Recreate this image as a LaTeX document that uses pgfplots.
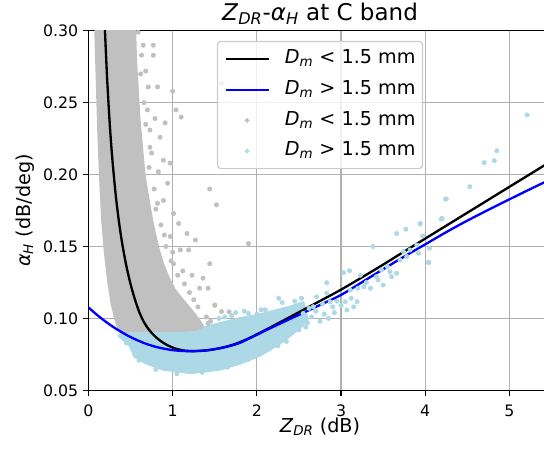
\documentclass[border=0pt]{standalone}
\usepackage{fontspec}
\setmainfont{DejaVu Sans}
\usepackage{pgfplots}
\pgfplotsset{compat=1.18}
\definecolor{silver}{HTML}{C0C0C0}
\definecolor{lblue}{HTML}{ADD8E6}
\definecolor{gridc}{HTML}{B0B0B0}
\definecolor{legc}{HTML}{CCCCCC}
\newcommand\mi[1]{\textit{#1}}
\newcommand\sub[1]{\textsubscript{\textit{#1}}}
\begin{document}
\begin{tikzpicture}
\begin{axis}[
  scale only axis,
  width=338pt, height=262.4pt,
  xmin=0, xmax=5.5, ymin=0.05, ymax=0.30,
  xtick={0,1,2,3,4,5},
  ytick={0.05,0.10,0.15,0.20,0.25,0.30},
  /pgf/number format/assume math mode=true,
  yticklabel style={/pgf/number format/.cd, fixed, fixed zerofill, precision=2},
  xticklabel style={yshift=-3pt},
  ticklabel style={font=\fontsize{11.5}{13}\selectfont},
  tick align=outside, xtick pos=bottom, ytick pos=left,
  major tick length=4pt,
  tick style={black, line width=0.9pt},
  axis line style={black, line width=0.9pt},
  grid=major,
  major grid style={gridc, line width=0.9pt},
  title={\mi{Z}\sub{DR}-\mi{α}\sub{H} at C band},
  every axis title shift=0pt,
  title style={font=\fontsize{16.8}{19}\selectfont, at={(axis description cs:0.5,1.0285)}, anchor=base},
  xlabel={\mi{Z}\sub{DR} (dB)},
  xlabel style={font=\fontsize{14}{16}\selectfont, at={(axis description cs:0.5,-0.118)}, anchor=base},
  ylabel={\mi{α}\sub{H} (dB/deg)},
  ylabel style={font=\fontsize{14}{16}\selectfont, at={(axis description cs:-0.126,0.5)}, anchor=base},
  legend image code/.code={\draw[mark repeat=2,mark phase=2,#1] plot coordinates {(0pt,0pt) (15.7pt,0pt) (31.4pt,0pt)};},
  legend cell align=left,
  legend style={at={(axis description cs:0.5,0.972)}, anchor=north,
    draw=legc, line width=0.9pt, rounded corners=2.5pt, fill=white, fill opacity=0.8, text opacity=1,
    font=\fontsize{14}{16}\selectfont,
    inner xsep=5pt, inner ysep=5.8pt, row sep=8.4pt, column sep=11pt,
    nodes={inner sep=0pt, text height=10.5pt, text depth=3.5pt}},
]
% legend entries
\addlegendimage{black, line width=1.7pt}
\addlegendentry{\mi{D}\sub{m} < 1.5 mm}
\addlegendimage{blue, line width=1.7pt}
\addlegendentry{\mi{D}\sub{m} > 1.5 mm}
\addlegendimage{only marks, mark=*, mark size=1.2pt, silver}
\addlegendentry{\mi{D}\sub{m} < 1.5 mm}
\addlegendimage{only marks, mark=*, mark size=1.2pt, lblue}
\addlegendentry{\mi{D}\sub{m} > 1.5 mm}

% gray dense cloud
\addplot[forget plot, fill=silver, draw=silver, line width=2pt, line join=round] coordinates {
(0.085,0.31) (0.085,0.30) (0.095,0.28) (0.105,0.26) (0.12,0.23) (0.14,0.20) (0.165,0.17) (0.2,0.145) (0.24,0.125) (0.28,0.11) (0.32,0.10) (0.36,0.093) (0.42,0.088)
(0.8,0.087) (1.2,0.087) (1.36,0.089) (1.37,0.093) (1.33,0.097) (1.27,0.102) (1.2,0.107) (1.1,0.114) (1.02,0.12) (0.95,0.128) (0.88,0.138) (0.83,0.148) (0.78,0.16) (0.74,0.172) (0.70,0.186) (0.66,0.20) (0.63,0.22) (0.60,0.24) (0.58,0.26) (0.56,0.28) (0.55,0.30) (0.55,0.31)
} -- cycle;
% gray outliers
\addplot[forget plot, only marks, mark=*, mark size=1.6pt, silver] coordinates {
(0.59,0.299) (0.63,0.283) (0.77,0.290) (0.77,0.283) (0.71,0.261) (0.82,0.261) (1.00,0.258) (1.04,0.245) (1.10,0.240)
(0.79,0.239) (0.91,0.236) (0.73,0.231) (0.85,0.226) (0.73,0.219) (0.89,0.210) (0.97,0.208) (0.83,0.202) (0.94,0.194)
(1.44,0.190) (1.52,0.179) (0.89,0.182) (1.01,0.173) (1.07,0.166) (1.17,0.159) (1.27,0.1545) (1.90,0.152) (0.97,0.157)
(1.09,0.1476) (1.19,0.1476) (1.01,0.138) (1.44,0.138) (1.23,0.130) (1.36,0.128) (1.32,0.121) (1.42,0.121) (1.50,0.1093)
(1.58,0.1047) (1.42,0.0966) (1.50,0.109) (1.67,0.1045) (1.33,0.0947) (1.58,0.2635)
(0.62,0.27) (0.66,0.25) (0.68,0.235) (0.72,0.205) (0.78,0.19) (0.80,0.176) (0.86,0.165) (0.92,0.15) (0.98,0.14) (1.06,0.13) (1.14,0.124) (1.25,0.113) (1.30,0.108) (1.40,0.101) (1.45,0.098)
(0.65,0.29) (0.68,0.272) (0.70,0.245) (0.75,0.215) (0.82,0.18) (0.9,0.158) (1.0,0.146) (1.12,0.133) (1.2,0.118)
};
% blue dense cloud
\addplot[forget plot, fill=lblue, draw=lblue, line width=2pt, line join=round] coordinates {
(0.36,0.088) (0.5,0.0895) (0.8,0.0895) (1.1,0.0895) (1.3,0.0905) (1.4,0.094) (1.6,0.097) (1.8,0.100) (2.0,0.102) (2.2,0.105) (2.4,0.108) (2.55,0.111)
(2.6,0.099) (2.5,0.093) (2.35,0.086) (2.24,0.0815) (2.04,0.0745) (1.8,0.0688) (1.56,0.0646) (1.21,0.0622) (0.89,0.0646) (0.69,0.0688) (0.55,0.0734) (0.49,0.0815) (0.42,0.085)
} -- cycle;
% blue outliers
\addplot[forget plot, only marks, mark=*, mark size=1.6pt, lblue] coordinates {
(2.26,0.114) (2.53,0.114) (2.83,0.1248) (3.03,0.1318) (3.10,0.1332) (2.71,0.115) (2.36,0.0878) (3.07,0.1058) (3.19,0.1116)
(3.05,0.1116) (3.35,0.121) (3.50,0.1232) (3.66,0.1314) (3.66,0.159) (3.77,0.162) (3.38,0.150) (3.94,0.1661) (4.04,0.1387)
(4.05,0.1488) (4.20,0.1696) (4.25,0.183) (3.92,0.1453) (3.78,0.143) (3.58,0.1325) (3.44,0.1267) (3.27,0.122) (2.87,0.1116)
(2.55,0.1035) (2.67,0.1081) (2.83,0.1175) (3.11,0.1197) (3.23,0.130) (3.42,0.129) (3.48,0.1337) (3.70,0.1406) (3.74,0.1464)
(3.90,0.151) (5.21,0.2415) (4.85,0.2166) (4.82,0.2097) (4.70,0.2083) (4.53,0.1916) (4.24,0.183) (4.19,0.169) (3.94,0.1656)
(3.97,0.1573) (3.82,0.1476) (4.04,0.139)
(2.0,0.103) (2.1,0.106) (2.15,0.079) (2.45,0.112) (2.5,0.092) (2.6,0.097) (2.65,0.101) (2.7,0.105) (2.75,0.098) (2.8,0.103)
(2.9,0.108) (2.95,0.112) (3.0,0.109) (1.7,0.102) (1.85,0.105) (1.55,0.100) (2.35,0.084) (2.25,0.081) (1.95,0.073)
(0.45,0.083) (0.6,0.071) (0.8,0.0645) (1.05,0.0615) (1.35,0.0625) (1.65,0.066) (1.9,0.0715)
(1.75,0.104) (1.9,0.1035) (2.05,0.106) (1.62,0.101) (2.3,0.111) (2.62,0.107) (2.78,0.110) (2.92,0.104) (3.12,0.114)
(3.2,0.121) (3.3,0.125) (3.55,0.136) (3.6,0.129) (3.15,0.108) (2.85,0.100) (2.58,0.094)
};
% fitted curves
\addplot[forget plot, black, line width=1.7pt, smooth, tension=0.5] coordinates {
(0.19,0.309) (0.20,0.2942) (0.22,0.2684) (0.25,0.2374) (0.28,0.2131) (0.32,0.1877) (0.36,0.1680) (0.40,0.1522) (0.45,0.1364) (0.50,0.1238) (0.55,0.1135) (0.60,0.1049) (0.65,0.0984) (0.70,0.0936) (0.75,0.0899) (0.80,0.0870) (0.85,0.0846) (0.90,0.0826) (0.95,0.0810) (1.00,0.0797) (1.05,0.0787) (1.10,0.0780) (1.15,0.0775) (1.20,0.0773) (1.25,0.0772) (1.30,0.0773) (1.40,0.0777) (1.50,0.0786) (1.60,0.0798) (1.70,0.0814) (1.80,0.0835) (1.90,0.0860) (2.00,0.0889) (2.25,0.0965) (2.50,0.1043) (2.75,0.1121) (3.00,0.1200) (3.25,0.1286) (3.50,0.1374) (3.75,0.1465) (4.00,0.1555) (4.25,0.1645) (4.50,0.1735) (4.75,0.1825) (5.00,0.1915) (5.25,0.2005) (5.50,0.2095)
};
\addplot[forget plot, blue, line width=1.7pt, smooth, tension=0.5] coordinates {
(0,0.1076) (0.1,0.1025) (0.2,0.0979) (0.3,0.0938) (0.4,0.0902) (0.5,0.0870) (0.6,0.0843) (0.7,0.0820) (0.8,0.0802) (0.9,0.0789) (1.0,0.0779) (1.1,0.0774) (1.2,0.0772) (1.3,0.0774) (1.4,0.0778) (1.5,0.0786) (1.6,0.0797) (1.7,0.0811) (1.8,0.0830) (1.9,0.0858) (2.0,0.0886) (2.1,0.0915) (2.2,0.0943) (2.4,0.0998) (2.6,0.1052) (2.8,0.1107) (3.0,0.1163) (3.25,0.1252) (3.5,0.1342) (3.75,0.1430) (4.0,0.1515) (4.25,0.1600) (4.5,0.1680) (4.75,0.1755) (5.0,0.1828) (5.25,0.1900) (5.5,0.1970)
};
\end{axis}
\pgfresetboundingbox
\useasboundingbox (-64.6pt,-48.7pt) rectangle (332.5pt,284.9pt);
\end{tikzpicture}
\end{document}
